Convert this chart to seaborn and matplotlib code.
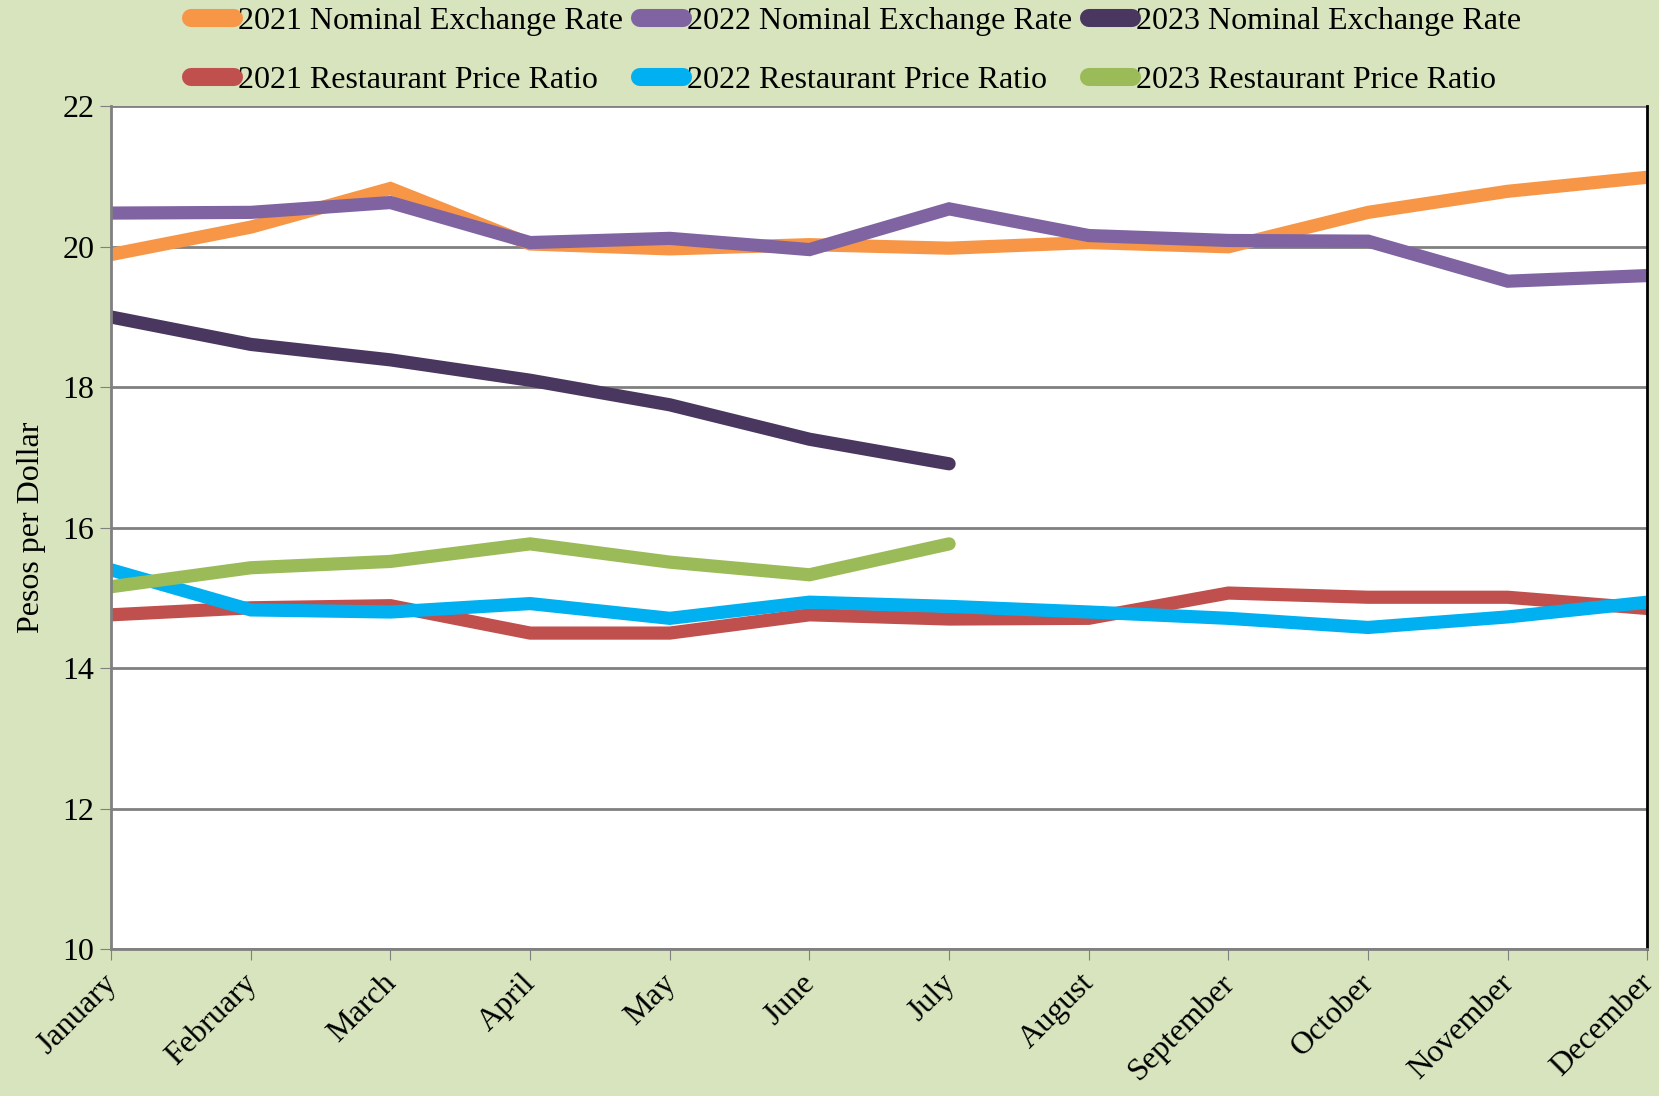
import numpy as np
import pandas as pd
import matplotlib
matplotlib.use("Agg")
import matplotlib.pyplot as plt
import matplotlib.transforms as mtransforms
import seaborn as sns

months = ["January", "February", "March", "April", "May", "June", "July",
          "August", "September", "October", "November", "December"]

nom_2021 = [19.89, 20.28, 20.83, 20.04, 19.97, 20.03, 19.98, 20.06, 20.00, 20.49, 20.79, 20.99]
nom_2022 = [20.48, 20.49, 20.63, 20.06, 20.12, 19.96, 20.54, 20.16, 20.09, 20.08, 19.51, 19.59]
nom_2023 = [19.00, 18.61, 18.39, 18.10, 17.75, 17.26, 16.91]
rest_2021 = [14.76, 14.86, 14.89, 14.50, 14.50, 14.76, 14.70, 14.71, 15.07, 15.01, 15.01, 14.85]
rest_2022 = [15.40, 14.83, 14.80, 14.92, 14.71, 14.94, 14.88, 14.80, 14.71, 14.58, 14.73, 14.94]
rest_2023 = [15.16, 15.43, 15.52, 15.77, 15.51, 15.33, 15.77]

series = {
    "2021 Nominal Exchange Rate": nom_2021,
    "2022 Nominal Exchange Rate": nom_2022,
    "2023 Nominal Exchange Rate": nom_2023,
    "2021 Restaurant Price Ratio": rest_2021,
    "2022 Restaurant Price Ratio": rest_2022,
    "2023 Restaurant Price Ratio": rest_2023,
}
colors = {
    "2021 Nominal Exchange Rate": "#F79646",
    "2022 Nominal Exchange Rate": "#8064A2",
    "2023 Nominal Exchange Rate": "#4A3760",
    "2021 Restaurant Price Ratio": "#C0504D",
    "2022 Restaurant Price Ratio": "#00B0F0",
    "2023 Restaurant Price Ratio": "#9BBB59",
}

rows = []
for name, vals in series.items():
    for i, v in enumerate(vals):
        rows.append({"month": i, "value": v, "series": name})
df = pd.DataFrame(rows)

sns.set_style("white")
plt.rcParams["font.family"] = ["Liberation Serif", "DejaVu Serif"]
plt.rcParams["text.color"] = "black"
plt.rcParams["axes.labelcolor"] = "black"
plt.rcParams["xtick.color"] = "black"
plt.rcParams["ytick.color"] = "black"

bg = "#D7E4BD"
fig = plt.figure(figsize=(16.59, 10.96), dpi=100, facecolor=bg)
ax = fig.add_axes([0.067, 0.134, 0.926, 0.769])
ax.set_facecolor("white")

order = list(series.keys())
draw_order = ["2021 Restaurant Price Ratio", "2022 Restaurant Price Ratio", "2023 Restaurant Price Ratio",
              "2021 Nominal Exchange Rate", "2022 Nominal Exchange Rate", "2023 Nominal Exchange Rate"]
for name in draw_order:
    sub = df[df["series"] == name]
    sns.lineplot(data=sub, x="month", y="value", color=colors[name], linewidth=9.5,
                 ax=ax, legend=False, solid_capstyle="round", solid_joinstyle="miter")

ax.set_xlim(0, 11)
ax.set_ylim(10, 22)
ax.set_yticks(range(10, 23, 2))
ax.set_xticks(range(12))
ax.tick_params(axis="y", labelsize=23, length=8, color="#808080", direction="out", left=True, pad=4)
ax.tick_params(axis="x", length=8, color="#808080", direction="out", bottom=True, pad=6)
ax.set_xticklabels(months, rotation=45, ha="right", rotation_mode="anchor", fontsize=23)
shift = mtransforms.ScaledTranslation(-0.09, 0, fig.dpi_scale_trans)
for lbl in ax.get_xticklabels():
    lbl.set_transform(lbl.get_transform() + shift)
ax.yaxis.grid(True, color="#808080", linewidth=2)
ax.set_axisbelow(True)
ax.set_xlabel("")
ax.set_ylabel("Pesos per Dollar", fontsize=23, labelpad=12)

for s in ["left", "bottom"]:
    ax.spines[s].set_color("#808080")
    ax.spines[s].set_linewidth(2)
ax.spines["right"].set_color("black")
ax.spines["right"].set_linewidth(2)
ax.spines["top"].set_visible(False)

handles = [plt.Line2D([], [], color=colors[n], linewidth=13, solid_capstyle="round") for n in order]
leg_order = [0, 3, 1, 4, 2, 5]
fig.legend([handles[i] for i in leg_order], [order[i] for i in leg_order],
           ncol=3, loc="upper left", bbox_to_anchor=(0.098, 1.02), frameon=False,
           fontsize=23, handlelength=1.35, handletextpad=0.1, columnspacing=0.55,
           labelspacing=0.92)

fig.savefig("out.png", dpi=100, facecolor=bg)
